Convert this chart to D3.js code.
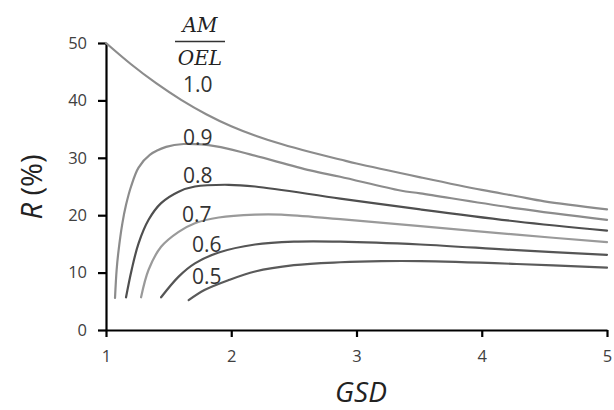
<!DOCTYPE html>
<html>
<head>
<meta charset="utf-8">
<script src="https://cdn.jsdelivr.net/npm/d3@7"></script>
<style>
  body { margin: 0; background: #fff; }
  svg { display: block; }
</style>
</head>
<body>
<div class="chart"></div>
<script>
const width = 614,
    height = 410,
    margin = { top: 43, bottom: 80, left: 106, right: 7 };

// ratio labels (AM/OEL) and the curve for each
const ratios = ["1.0", "0.9", "0.8", "0.7", "0.6", "0.5"];

const gsd10 = [1, 1.2, 1.4, 1.6, 1.8, 2.0, 2.2, 2.4, 2.63, 2.87, 3.0, 3.51, 4.0, 4.28, 4.5, 5];
const r10 = [50, 46.3, 43.0, 40.1, 37.6, 35.5, 33.8, 32.4, 31.0, 29.7, 29.0, 26.6, 24.4, 23.3, 22.4, 21.0];

const gsd09 = [1.072, 1.085, 1.10, 1.13, 1.16, 1.20, 1.26, 1.35, 1.48, 1.62, 1.88, 2.15, 2.63, 2.87, 3.35, 3.51, 4.28, 5];
const r09 = [5.6, 10.5, 13.8, 18.5, 21.8, 25.0, 28.3, 30.5, 31.9, 32.4, 32.0, 30.6, 27.8, 26.7, 24.3, 23.8, 21.2, 19.2];

const gsd08 = [1.16, 1.205, 1.26, 1.34, 1.44, 1.58, 1.71, 1.98, 2.19, 2.87, 3.51, 4.28, 5];
const r08 = [5.7, 10.5, 15.1, 19.2, 22.1, 24.1, 25.0, 25.3, 25.0, 22.9, 21.0, 18.9, 17.3];

const gsd07 = [1.28, 1.34, 1.44, 1.58, 1.71, 1.90, 2.19, 2.4, 2.87, 3.51, 4.28, 5];
const r07 = [5.7, 10.5, 14.5, 17.1, 18.6, 19.6, 20.1, 20.1, 19.3, 18.1, 16.6, 15.3];

const gsd06 = [1.44, 1.58, 1.71, 1.90, 2.19, 2.5, 2.87, 3.51, 4.28, 5];
const r06 = [5.7, 9.3, 11.6, 13.5, 14.9, 15.4, 15.4, 14.9, 13.9, 13.1];

const gsd05 = [1.66, 1.79, 1.98, 2.19, 2.5, 2.87, 3.2, 3.51, 4.28, 5];
const r05 = [5.2, 7.0, 8.7, 10.2, 11.3, 11.8, 12.0, 12.0, 11.5, 10.85];

const xTicks = [1, 2, 3, 4, 5];
const yTicks = [0, 10, 20, 30, 40, 50];

const series = [
    { name: ratios[0], gsd: gsd10, r: r10, color: "#8c8c8c", lx: 183, ly: 92 },
    { name: ratios[1], gsd: gsd09, r: r09, color: "#8c8c8c", lx: 183, ly: 145 },
    { name: ratios[2], gsd: gsd08, r: r08, color: "#4f4f4f", lx: 183, ly: 183 },
    { name: ratios[3], gsd: gsd07, r: r07, color: "#9a9a9a", lx: 182, ly: 222 },
    { name: ratios[4], gsd: gsd06, r: r06, color: "#555555", lx: 192, ly: 252 },
    { name: ratios[5], gsd: gsd05, r: r05, color: "#5a5a5a", lx: 192, ly: 284 }
];

const x = d3.scaleLinear()
    .domain([1, 5])
    .range([margin.left, width - margin.right]);
const y = d3.scaleLinear()
    .domain([0, 50])
    .range([height - margin.bottom, margin.top]);

const svg = d3.select(".chart")
    .append("svg")
    .attr("width", width)
    .attr("height", height);

// axes
const xAxis = svg.append("g")
    .attr("transform", `translate(0, ${y(0)})`)
    .call(d3.axisBottom(x).tickValues(xTicks).tickFormat(d3.format("d"))
        .tickSize(7).tickSizeOuter(0).tickPadding(13));

const yAxis = svg.append("g")
    .attr("transform", `translate(${x(1)}, 0)`)
    .call(d3.axisLeft(y).tickValues(yTicks)
        .tickSize(8).tickSizeOuter(0).tickPadding(11));

[xAxis, yAxis].forEach(g => {
    g.select(".domain").attr("stroke", "#000").attr("stroke-width", 2.2);
    g.selectAll(".tick line").attr("stroke", "#000").attr("stroke-width", 2.2);
    g.selectAll(".tick text")
        .attr("font-family", "Open Sans, sans-serif")
        .attr("font-size", 16.5)
        .attr("fill", "#404040");
});

// curves
const line = d3.line()
    .x(d => x(d[0]))
    .y(d => y(d[1]))
    .curve(d3.curveCatmullRom.alpha(0.5));

svg.selectAll("path.curve")
    .data(series)
    .join("path")
    .attr("class", "curve")
    .attr("fill", "none")
    .attr("stroke", d => d.color)
    .attr("stroke-width", 2.2)
    .attr("stroke-linecap", "round")
    .attr("d", d => line(d.gsd.map((g, i) => [g, d.r[i]])));

// curve labels
svg.selectAll("text.ratio")
    .data(series)
    .join("text")
    .attr("class", "ratio")
    .attr("x", d => d.lx)
    .attr("y", d => d.ly)
    .attr("font-family", "Open Sans, sans-serif")
    .attr("font-size", 21)
    .attr("fill", "#333")
    .text(d => d.name);

// AM / OEL fraction heading
const frac = svg.append("g")
    .attr("font-family", "DejaVu Serif, serif")
    .attr("font-style", "italic")
    .attr("font-size", 20)
    .attr("fill", "#222")
    .attr("text-anchor", "middle");
frac.append("text").attr("x", 200).attr("y", 32).text("AM");
frac.append("line")
    .attr("x1", 175).attr("x2", 225)
    .attr("y1", 41.5).attr("y2", 41.5)
    .attr("stroke", "#333").attr("stroke-width", 1.5);
frac.append("text").attr("x", 200).attr("y", 65).text("OEL");

// axis titles
const yTitle = svg.append("text")
    .attr("transform", `translate(42, 187) rotate(-90)`)
    .attr("text-anchor", "middle")
    .attr("font-family", "Open Sans, sans-serif")
    .attr("font-size", 29)
    .attr("fill", "#222");
yTitle.append("tspan").attr("font-style", "italic").text("R");
yTitle.append("tspan").text(" (%)");

svg.append("text")
    .attr("x", 361)
    .attr("y", 402)
    .attr("text-anchor", "middle")
    .attr("font-family", "Open Sans, sans-serif")
    .attr("font-style", "italic")
    .attr("font-size", 28)
    .attr("fill", "#222")
    .text("GSD");
</script>
</body>
</html>
